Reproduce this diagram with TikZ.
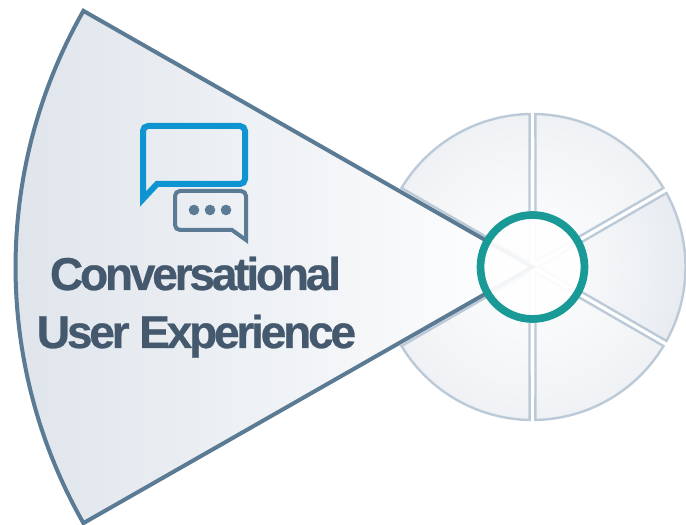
\documentclass[tikz,border=0pt]{standalone}
\usepackage{fontspec}
\usetikzlibrary{calc}
\setmainfont{Liberation Sans}
\definecolor{wedgeline}{HTML}{5B7A94}
\definecolor{wedgefill}{HTML}{DEE4EB}
\definecolor{wedgemid}{HTML}{EEF2F5}
\definecolor{petalline}{HTML}{BCCAD8}
\definecolor{petalfill}{HTML}{E6EAEE}
\definecolor{petaldark}{HTML}{DAE0E8}
\definecolor{ringteal}{HTML}{1A9A96}
\definecolor{bubbleblue}{HTML}{0F94D2}
\definecolor{labelslate}{HTML}{44596E}
\tikzset{
  petal/.style={draw=petalline,line width=2.4pt},
  label text/.style={text=labelslate,font=\bfseries\fontsize{46}{46}\selectfont\addfontfeature{LetterSpace=-6.9,FakeBold=0.6},inner sep=0pt},
}
\begin{document}
\begin{tikzpicture}
[x=1pt,y=1pt]
\useasboundingbox (0,0) rectangle (686,525);
\coordinate (O) at (532.5,258);

% petals
\foreach \a/\c in {120/petalfill,60/petalfill,0/petaldark,-60/petalfill,-120/petalfill}{
\begin{scope}
\clip ($(O)+(\a:6)$) -- ($(O)+(\a-28.9:153)$) arc[start angle=\a-28.9,end angle=\a+28.9,radius=153] -- cycle;
\shade[inner color=white,outer color=\c] (O) circle (240);
\end{scope}
\path[petal] ($(O)+(\a:6)$) -- ($(O)+(\a-28.9:153)$) arc[start angle=\a-28.9,end angle=\a+28.9,radius=153] -- cycle;
}

% wedge
\path[draw=wedgeline,line width=4pt,left color=wedgefill,middle color=wedgemid,right color=white,miter limit=10]
  (O) -- ($(O)+(150.3:517)$) arc[start angle=150.3,end angle=209.7,radius=517] -- cycle;

% ring
\fill[white,opacity=0.93] (O) circle (50);
\draw[ringteal,line width=7.7pt] (O) circle (52);

% blue bubble
\draw[bubbleblue,line width=6pt,rounded corners=5pt,miter limit=10]
  (157,341) -- (245,341) -- (245,399) -- (143,399) -- (143,341)
  [sharp corners] -- (143,326) -- cycle;
% grey bubble
\draw[wedgeline,line width=4pt,rounded corners=5pt,miter limit=10]
  (232,295) -- (175,295) -- (175,334) -- (246,334) -- (246,295)
  [sharp corners] -- (246,285) -- cycle;
\foreach \x in {194,210,226}{
\fill[wedgeline] (\x,315) circle (5.3);
}

\node[label text,anchor=base] (conv) at (195.5,235) {Conversational};
\node[label text,anchor=base] (ux) at (196.5,177) {User Experience};
\end{tikzpicture}
\end{document}
